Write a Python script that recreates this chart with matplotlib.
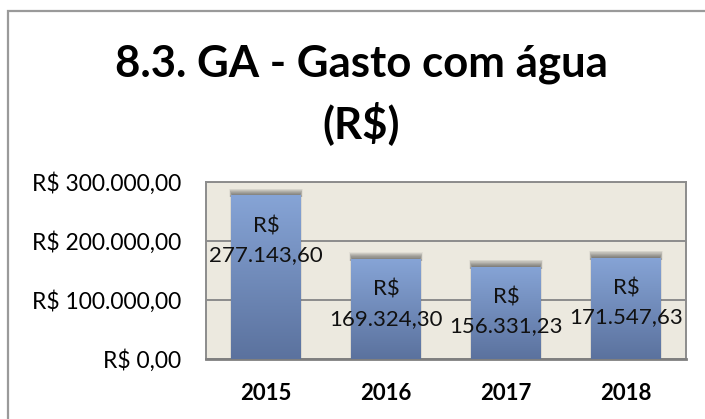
import numpy as np
import matplotlib
matplotlib.use("Agg")
import matplotlib.pyplot as plt
from matplotlib.colors import LinearSegmentedColormap
from matplotlib.patches import Rectangle

plt.rcParams['font.family'] = ['Lato', 'DejaVu Sans']

# dados
anos = ['2015', '2016', '2017', '2018']
gastos = [277143.60, 169324.30, 156331.23, 171547.63]
rotulos = ['R$\n277.143,60', 'R$\n169.324,30', 'R$\n156.331,23', 'R$\n171.547,63']
yticks = [0, 100000, 200000, 300000]
ytick_labels = ['R$ 0,00', 'R$ 100.000,00', 'R$ 200.000,00', 'R$ 300.000,00']
titulo = ['8.3. GA - Gasto com água', '(R$)']


def main():
    W, H = 705, 419
    fig = plt.figure(figsize=(W / 100, H / 100), dpi=100)
    fig.patch.set_facecolor('white')

    # moldura do gráfico (cortada à direita e embaixo)
    fig.patches.append(Rectangle((8 / W, -0.1), 1.2, 1.1 - 11 / H,
                                 transform=fig.transFigure, fill=False,
                                 edgecolor='#9a9a9a', linewidth=1.6))

    # título em duas linhas
    fig.text(361 / W, 1 - 77 / H, titulo[0], ha='center', va='baseline',
             fontsize=31.5, fontweight='bold')
    fig.text(361 / W, 1 - 138 / H, titulo[1], ha='center', va='baseline',
             fontsize=31.5, fontweight='bold')

    ax = fig.add_axes([206 / W, 1 - 359 / H, 480 / W, 177 / H])
    ax.set_facecolor('#ece9df')
    x = np.arange(len(anos))
    g = np.array(gastos)

    # sombra desfocada no topo das barras (várias camadas finas)
    for k in range(14):
        ax.bar(x, 3000 + k * 900, bottom=g - 3000, width=0.56 + 0.004 * k,
               color='#2a2a2a', alpha=0.055, zorder=2, linewidth=0)
    for k in range(4):
        ax.bar(x, g, width=0.58 + 0.006 * (k + 1),
               color='#555555', alpha=0.04, zorder=2, linewidth=0)

    bars = ax.bar(x, g, width=0.58, color='#7590c2', zorder=3, linewidth=0)
    cmap = LinearSegmentedColormap.from_list('azul', ['#5b729e', '#86a4d6'])
    grad = np.linspace(0, 1, 256).reshape(-1, 1)
    for b in bars:
        x0, w, h = b.get_x(), b.get_width(), b.get_height()
        im = ax.imshow(grad, extent=[x0, x0 + w, 0, h], origin='lower',
                       cmap=cmap, aspect='auto', zorder=4)
        im.set_clip_path(b)

    for xi, v, lab in zip(x, gastos, rotulos):
        ax.annotate(lab, (xi, v), xytext=(0, -15), textcoords='offset points',
                    ha='center', va='top', fontsize=16, linespacing=1.55,
                    zorder=5, color='#111111')

    ax.set_xlim(-0.5, len(anos) - 0.5)
    ax.set_ylim(0, 300000)
    ax.set_yticks(yticks)
    ax.set_yticklabels(ytick_labels, fontsize=16.5)
    ax.set_xticks(x)
    ax.set_xticklabels(anos, fontsize=16, fontweight='bold')
    ax.tick_params(axis='y', length=0, pad=18)
    ax.tick_params(axis='x', length=0, pad=17)
    ax.grid(axis='y', color='#8c8c8c', linewidth=1.4, zorder=1)
    ax.set_axisbelow(True)
    for s in ax.spines.values():
        s.set_color('#8c8c8c')
        s.set_linewidth(1.4)
    ax.spines['bottom'].set_color('#7f7f7f')
    ax.spines['bottom'].set_linewidth(2)

    fig.savefig('out.png', dpi=100)


if __name__ == '__main__':
    main()
